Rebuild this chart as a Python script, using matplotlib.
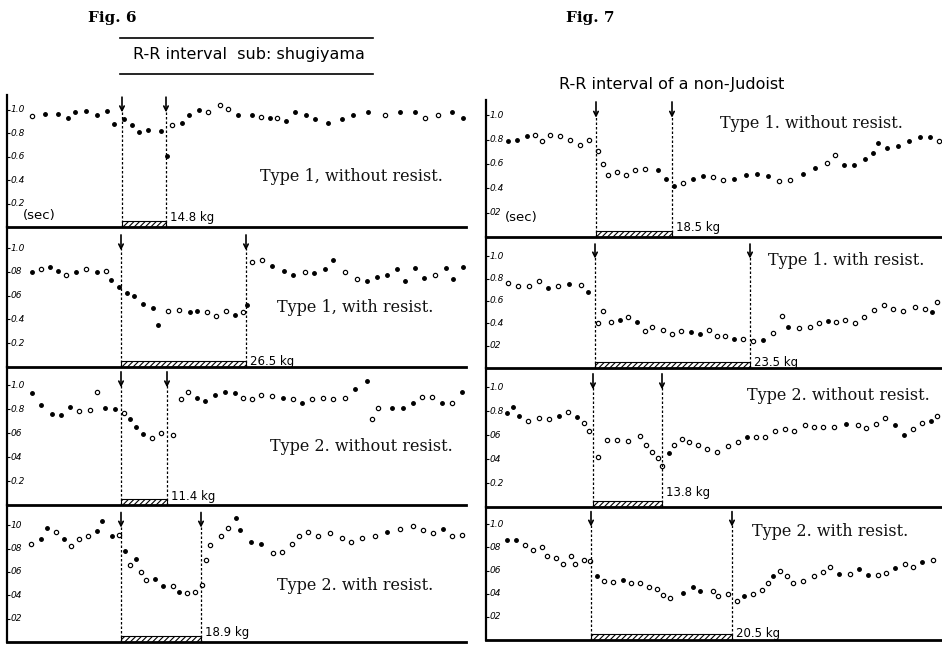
import matplotlib

matplotlib.use("Agg")
import matplotlib.pyplot as plt
import numpy as np
from matplotlib.lines import Line2D

plt.rcParams["hatch.linewidth"] = 0.8

# ---------------------------------------------------------------------------
# Data
# t: time position of each beat (arbitrary units), rr: R-R interval (sec),
# solid: 1 = filled dot, 0 = open circle
# ---------------------------------------------------------------------------

# Fig. 6, Type 1, without resist.
f6a_t = [2.5, 3.8, 5.1, 6.1, 6.8, 7.9, 9.0, 10.0, 10.7, 11.7, 12.5, 13.2, 14.1, 15.4,
         16.0, 16.5, 17.5, 18.2, 19.2, 20.1, 21.3, 22.1, 23.1, 24.5, 25.4, 26.3, 27.0,
         27.9, 28.8, 29.9, 30.8, 32.1, 33.5, 34.6, 36.1, 37.8, 39.3, 40.8, 41.8, 43.1,
         44.5, 45.6]
f6a_rr = [0.95, 0.97, 0.97, 0.93, 0.98, 0.99, 0.96, 0.99, 0.88, 0.92, 0.87, 0.81, 0.83,
          0.82, 0.61, 0.87, 0.89, 0.96, 1.00, 0.98, 1.04, 1.01, 0.96, 0.96, 0.94, 0.93,
          0.93, 0.91, 0.98, 0.96, 0.92, 0.89, 0.92, 0.96, 0.98, 0.96, 0.98, 0.98, 0.93,
          0.96, 0.98, 0.93]
f6a_solid = [0, 1, 1, 1, 1, 1, 1, 1, 1, 1, 1, 1, 1, 1, 1, 0, 1, 1, 1, 0, 0, 0, 1, 1, 0,
             1, 0, 1, 1, 1, 1, 1, 1, 1, 1, 0, 1, 1, 0, 0, 1, 1]

# Fig. 6, Type 1, with resist.
f6b_t = [2.5, 3.4, 4.3, 5.1, 5.9, 6.9, 7.9, 9.0, 9.9, 10.4, 11.2, 12.0, 12.7, 13.6,
         14.6, 15.1, 16.1, 17.2, 18.3, 19.0, 20.0, 20.9, 21.9, 22.8, 23.6, 24.0, 24.5,
         25.5, 26.5, 27.7, 28.6, 29.8, 30.7, 31.8, 32.6, 33.8, 35.0, 36.0, 37.0, 38.0,
         39.0, 39.8, 40.8, 41.7, 42.8, 43.9, 44.6, 45.6]
f6b_rr = [0.80, 0.82, 0.84, 0.81, 0.77, 0.80, 0.82, 0.80, 0.81, 0.73, 0.67, 0.62, 0.60,
          0.53, 0.50, 0.35, 0.47, 0.48, 0.46, 0.47, 0.46, 0.43, 0.47, 0.44, 0.46, 0.52,
          0.88, 0.90, 0.85, 0.81, 0.77, 0.80, 0.79, 0.82, 0.90, 0.80, 0.74, 0.72, 0.76,
          0.77, 0.82, 0.72, 0.83, 0.75, 0.77, 0.83, 0.74, 0.84]
f6b_solid = [1, 0, 1, 1, 0, 1, 0, 1, 0, 1, 1, 1, 1, 1, 1, 1, 0, 0, 1, 1, 0, 0, 0, 1, 0,
             1, 0, 0, 1, 1, 1, 0, 1, 1, 1, 0, 0, 1, 1, 1, 1, 1, 1, 1, 0, 1, 1, 1]

# Fig. 6, Type 2. without resist.
f6c_t = [2.5, 3.4, 4.5, 5.4, 6.3, 7.2, 8.3, 9.0, 9.8, 10.8, 11.7, 12.3, 12.9, 13.6,
         14.5, 15.4, 16.6, 17.4, 18.1, 19.0, 19.8, 20.8, 21.8, 22.8, 23.6, 24.5, 25.4,
         26.5, 27.6, 28.6, 29.5, 30.5, 31.6, 32.6, 33.8, 34.8, 36.0, 36.5, 37.1, 38.5,
         39.6, 40.6, 41.5, 42.5, 43.5, 44.5, 45.5]
f6c_rr = [0.93, 0.83, 0.76, 0.75, 0.82, 0.78, 0.79, 0.94, 0.81, 0.80, 0.77, 0.72, 0.65,
          0.59, 0.56, 0.60, 0.58, 0.88, 0.94, 0.89, 0.87, 0.92, 0.94, 0.93, 0.89, 0.88,
          0.92, 0.91, 0.89, 0.88, 0.85, 0.88, 0.89, 0.88, 0.89, 0.97, 1.03, 0.72, 0.81,
          0.81, 0.81, 0.85, 0.90, 0.90, 0.85, 0.85, 0.94]
f6c_solid = [1, 1, 1, 1, 1, 0, 0, 0, 1, 1, 0, 1, 1, 1, 0, 0, 0, 0, 0, 1, 1, 1, 1, 1, 0,
             0, 0, 0, 1, 0, 1, 0, 0, 0, 0, 1, 1, 0, 0, 1, 1, 1, 0, 0, 1, 0, 1]

# Fig. 6, Type 2. with resist.
f6d_t = [2.4, 3.4, 4.0, 4.9, 5.7, 6.4, 7.2, 8.1, 9.0, 9.5, 10.5, 11.2, 11.8, 12.3,
         12.9, 13.4, 13.9, 14.8, 15.6, 16.6, 17.2, 18.0, 18.8, 19.5, 19.9, 20.3, 21.4,
         22.1, 22.9, 23.3, 24.4, 25.4, 26.6, 27.5, 28.5, 29.2, 30.1, 31.1, 32.3, 33.5,
         34.4, 35.5, 36.8, 38.0, 39.3, 40.6, 41.6, 42.6, 43.6, 44.5, 45.5]
f6d_rr = [0.84, 0.88, 0.98, 0.94, 0.88, 0.82, 0.88, 0.91, 0.95, 1.04, 0.91, 0.92, 0.78,
          0.66, 0.71, 0.60, 0.53, 0.54, 0.48, 0.48, 0.43, 0.42, 0.43, 0.49, 0.70, 0.83,
          0.91, 0.98, 1.06, 0.96, 0.86, 0.84, 0.76, 0.77, 0.84, 0.91, 0.94, 0.91, 0.93,
          0.89, 0.86, 0.89, 0.91, 0.94, 0.97, 0.99, 0.96, 0.93, 0.97, 0.91, 0.92]
f6d_solid = [0, 1, 1, 0, 1, 0, 0, 0, 1, 1, 1, 0, 1, 0, 1, 0, 0, 1, 1, 0, 1, 0, 0, 0, 0,
             0, 0, 0, 1, 1, 1, 1, 0, 0, 0, 0, 0, 0, 0, 0, 0, 0, 0, 1, 0, 0, 0, 0, 1, 0, 0]

# Fig. 7, Type 1. without resist.
f7a_t = [2.2, 3.1, 4.1, 4.9, 5.6, 6.4, 7.4, 8.4, 9.4, 10.3, 11.2, 11.7, 12.2, 13.1,
         14.0, 14.9, 15.9, 17.2, 18.0, 18.8, 19.7, 20.7, 21.7, 22.7, 23.7, 24.8, 26.0,
         27.1, 28.2, 29.3, 30.4, 31.7, 32.9, 34.1, 34.9, 35.8, 36.8, 37.9, 38.7, 39.2,
         40.1, 41.2, 42.3, 43.4, 44.4, 45.3]
f7a_rr = [0.79, 0.80, 0.83, 0.84, 0.79, 0.84, 0.83, 0.80, 0.76, 0.80, 0.71, 0.60, 0.51,
          0.53, 0.51, 0.55, 0.56, 0.55, 0.48, 0.42, 0.44, 0.48, 0.50, 0.49, 0.47, 0.48,
          0.51, 0.52, 0.50, 0.46, 0.47, 0.52, 0.57, 0.61, 0.67, 0.59, 0.59, 0.64, 0.69,
          0.77, 0.73, 0.75, 0.79, 0.82, 0.82, 0.79]
f7a_solid = [1, 1, 1, 0, 0, 0, 0, 0, 0, 0, 0, 0, 0, 0, 0, 0, 0, 1, 1, 1, 0, 1, 1, 0, 0,
             1, 1, 1, 1, 0, 0, 1, 1, 0, 0, 1, 1, 1, 1, 1, 1, 1, 1, 1, 1, 0]

# Fig. 7, Type 1. with resist.
f7b_t = [2.2, 3.2, 4.3, 5.3, 6.2, 7.2, 8.3, 9.5, 10.2, 11.2, 11.7, 12.5, 13.4, 14.2,
         15.1, 15.9, 16.6, 17.7, 18.6, 19.5, 20.5, 21.4, 22.3, 23.1, 23.9, 24.8, 25.7,
         26.7, 27.7, 28.7, 29.6, 30.2, 31.3, 32.4, 33.3, 34.2, 35.0, 35.9, 36.9, 37.8,
         38.8, 39.8, 40.7, 41.7, 42.9, 43.9, 44.6, 45.1]
f7b_rr = [0.76, 0.73, 0.73, 0.78, 0.72, 0.73, 0.75, 0.74, 0.68, 0.40, 0.51, 0.41, 0.43,
          0.46, 0.41, 0.33, 0.37, 0.34, 0.30, 0.33, 0.32, 0.30, 0.34, 0.29, 0.29, 0.26,
          0.26, 0.24, 0.25, 0.31, 0.47, 0.37, 0.36, 0.37, 0.40, 0.42, 0.41, 0.43, 0.40,
          0.46, 0.52, 0.56, 0.53, 0.51, 0.55, 0.53, 0.50, 0.59]
f7b_solid = [0, 0, 0, 0, 1, 0, 1, 0, 1, 0, 0, 0, 1, 0, 1, 0, 0, 0, 0, 0, 1, 1, 0, 0, 0,
             1, 0, 0, 1, 0, 0, 1, 0, 0, 0, 1, 0, 0, 0, 0, 0, 0, 0, 0, 0, 0, 1, 0]

# Fig. 7, Type 2. without resist.
f7c_t = [2.1, 2.7, 3.3, 4.2, 5.3, 6.3, 7.3, 8.2, 9.1, 9.8, 10.3, 11.2, 12.1, 13.1,
         14.2, 15.4, 16.0, 16.6, 17.2, 17.6, 18.3, 18.8, 19.6, 20.3, 21.2, 22.1, 23.1,
         24.2, 25.2, 26.1, 27.0, 27.9, 28.9, 29.9, 30.8, 31.9, 32.8, 33.7, 34.8, 36.0,
         37.2, 38.0, 39.0, 39.9, 40.9, 41.8, 42.7, 43.6, 44.5, 45.1]
f7c_rr = [0.78, 0.83, 0.76, 0.72, 0.74, 0.73, 0.76, 0.79, 0.75, 0.70, 0.63, 0.42, 0.56,
          0.56, 0.55, 0.59, 0.52, 0.46, 0.41, 0.34, 0.45, 0.52, 0.57, 0.54, 0.52, 0.48,
          0.46, 0.51, 0.54, 0.58, 0.58, 0.58, 0.63, 0.65, 0.63, 0.68, 0.67, 0.67, 0.67,
          0.69, 0.68, 0.66, 0.69, 0.74, 0.68, 0.60, 0.65, 0.70, 0.72, 0.76]
f7c_solid = [1, 1, 1, 0, 0, 0, 1, 0, 1, 0, 0, 0, 0, 0, 0, 0, 0, 0, 0, 0, 1, 0, 0, 0, 0,
             0, 0, 0, 0, 1, 0, 0, 0, 0, 0, 0, 0, 0, 0, 1, 0, 0, 0, 0, 1, 1, 0, 0, 1, 0]

# Fig. 7, Type 2. with resist.
f7d_t = [2.1, 3.0, 3.9, 4.7, 5.6, 6.1, 7.0, 7.7, 8.5, 8.9, 9.8, 10.4, 11.1, 11.8,
         12.7, 13.7, 14.5, 15.4, 16.3, 17.1, 17.7, 18.4, 19.7, 20.7, 21.4, 22.7, 23.2,
         24.2, 25.1, 25.8, 26.7, 27.6, 28.2, 28.7, 29.4, 30.1, 30.7, 31.7, 32.8, 33.7,
         34.4, 35.3, 36.4, 37.3, 38.2, 39.2, 40.0, 40.9, 41.9, 42.7, 43.6, 44.7]
f7d_rr = [0.86, 0.86, 0.82, 0.78, 0.80, 0.73, 0.71, 0.66, 0.73, 0.66, 0.69, 0.68, 0.55,
          0.51, 0.50, 0.52, 0.49, 0.49, 0.46, 0.44, 0.39, 0.36, 0.41, 0.46, 0.42, 0.42,
          0.38, 0.40, 0.34, 0.38, 0.40, 0.43, 0.49, 0.55, 0.60, 0.55, 0.49, 0.51, 0.55,
          0.59, 0.63, 0.57, 0.57, 0.61, 0.56, 0.56, 0.58, 0.62, 0.66, 0.63, 0.67, 0.69]
f7d_solid = [1, 1, 0, 0, 0, 0, 0, 0, 0, 0, 0, 0, 1, 0, 0, 1, 0, 0, 0, 0, 0, 0, 1, 1, 1,
             0, 0, 0, 0, 1, 0, 0, 0, 1, 0, 0, 0, 0, 0, 0, 0, 1, 0, 1, 1, 0, 0, 1, 0, 0,
             1, 0]

# start / end of the load (arrows) and load weight
load_start = [11.5, 11.4, 11.4, 11.4, 11.0, 10.9, 10.7, 10.5]
load_end = [15.9, 23.9, 16.0, 19.4, 18.6, 26.4, 17.6, 24.6]
load_kg = ["14.8 kg", "26.5 kg", "11.4 kg", "18.9 kg",
           "18.5 kg", "23.5 kg", "13.8 kg", "20.5 kg"]
type_labels = ["Type 1, without resist.", "Type 1, with resist.",
               "Type 2. without resist.", "Type 2. with resist.",
               "Type 1. without resist.", "Type 1. with resist.",
               "Type 2. without resist.", "Type 2. with resist."]
tick_vals = [1.0, 0.8, 0.6, 0.4, 0.2]
tick_text = [
    ["1.0", "0.8", "0.6", "0.4", "0.2"],
    ["1.0", "08", "06", "0.4", "0.2"],
    ["1.0", "0.8", "06", "04", "0.2"],
    ["10", "08", "06", "04", "02"],
    ["1.0", "0.8", "0.6", "0.4", "02"],
    ["1.0", "0.8", "0.6", "0.4", "02"],
    ["1.0", "0.8", "06", "04", "0.2"],
    ["1.0", "08", "06", "04", "02"],
]

panels = [
    (f6a_t, f6a_rr, f6a_solid), (f6b_t, f6b_rr, f6b_solid),
    (f6c_t, f6c_rr, f6c_solid), (f6d_t, f6d_rr, f6d_solid),
    (f7a_t, f7a_rr, f7a_solid), (f7b_t, f7b_rr, f7b_solid),
    (f7c_t, f7c_rr, f7c_solid), (f7d_t, f7d_rr, f7d_solid),
]

# layout in pixels: (left, right, top, bottom, px per sec), plus label spots
W, H = 942, 646
boxes = [
    (7, 466, 95, 227, 117.0), (7, 466, 227, 367, 119.0),
    (7, 466, 367, 505, 120.0), (7, 466, 505, 642, 116.7),
    (486, 941, 100, 237, 121.7), (486, 941, 237, 368, 111.7),
    (486, 941, 368, 507, 120.0), (486, 941, 507, 640, 115.7),
]
type_pos = [(25.3, 0.43), (27.0, 0.50), (26.3, 0.49), (27.0, 0.48),
            (23.4, 0.93), (28.2, 0.96), (26.1, 0.93), (26.6, 0.94)]
kg_y = [0.08, 0.05, 0.07, 0.08, 0.08, 0.05, 0.12, 0.06]

fig = plt.figure(figsize=(W / 100, H / 100), dpi=100)

for i, (t, rr, solid) in enumerate(panels):
    left, right, top, bottom, scale = boxes[i]
    ax = fig.add_axes([left / W, 1 - bottom / H, (right - left) / W, (bottom - top) / H])
    ax.set_xlim(0, (right - left) / 10)
    ax.set_ylim(0, (bottom - top) / scale)
    for s in ["top", "right"]:
        ax.spines[s].set_visible(False)
    ax.spines["left"].set_linewidth(1.6)
    ax.spines["bottom"].set_linewidth(2.0)
    ax.set_xticks([])
    ax.set_yticks(tick_vals)
    ax.set_yticklabels([])
    ax.tick_params(axis="y", direction="in", length=2, width=0.8)
    ax.patch.set_alpha(0)

    for v, lab in zip(tick_vals, tick_text[i]):
        ax.text(0.008, v, lab, transform=ax.get_yaxis_transform(), ha="left",
                va="center", fontsize=6.5, style="italic", family="DejaVu Sans")

    t = np.array(t)
    rr = np.array(rr)
    solid = np.array(solid, dtype=bool)
    ax.plot(t[solid], rr[solid], "o", ms=2.5, color="black", clip_on=False)
    ax.plot(t[~solid], rr[~solid], "o", ms=3.1, mfc="white", mec="black",
            mew=0.85, clip_on=False)

    # load period: dashed markers, arrows, hatched bar
    ax.vlines([load_start[i], load_end[i]], 0, 1.0, colors="black",
              linestyles=(0, (2, 1.6)), lw=0.9)
    for xv in (load_start[i], load_end[i]):
        ax.annotate("", xy=(xv, 0.98), xytext=(xv, 1.11),
                    arrowprops=dict(arrowstyle="->", color="black", lw=1.2,
                                    mutation_scale=8, shrinkA=0, shrinkB=0))
    ax.bar(load_start[i], 0.05, width=load_end[i] - load_start[i], align="edge",
           facecolor="white", edgecolor="black", hatch="//////", lw=0.8)
    ax.text(load_end[i] + 0.4, kg_y[i], load_kg[i], ha="left", va="center",
            fontsize=8.5, family="DejaVu Sans")

    tx, ty = type_pos[i]
    ax.text(tx, ty, type_labels[i], ha="left", va="center", fontsize=11.5,
            family="DejaVu Serif", color="#111111")

    if i in (0, 4):
        sx, sy = (1.6, 0.10) if i == 0 else (1.9, 0.16)
        ax.text(sx, sy, "(sec)", ha="left", va="center", fontsize=9.5,
                family="DejaVu Sans")

# headings
fig.text(112 / W, 1 - 18 / H, "Fig. 6", ha="center", va="center", fontsize=11,
         family="DejaVu Serif", weight="bold")
fig.text(590 / W, 1 - 18 / H, "Fig. 7", ha="center", va="center", fontsize=11,
         family="DejaVu Serif", weight="bold")
fig.text(249 / W, 1 - 55 / H, "R-R interval  sub: shugiyama", ha="center",
         va="center", fontsize=11.5, family="DejaVu Sans")
fig.text(672 / W, 1 - 84 / H, "R-R interval of a non-Judoist", ha="center",
         va="center", fontsize=11.5, family="DejaVu Sans")
for yy in (38, 74):
    fig.add_artist(Line2D([120 / W, 373 / W], [1 - yy / H, 1 - yy / H],
                          lw=1.2, color="black"))

fig.savefig("out.png", dpi=100)
